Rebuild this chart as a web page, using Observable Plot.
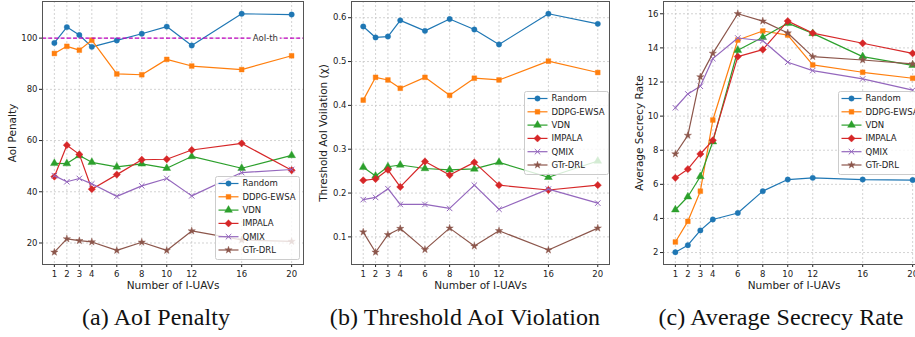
<!DOCTYPE html>
<html>
<head>
<meta charset="utf-8">
<script src="https://cdn.jsdelivr.net/npm/d3@7"></script>
<script src="https://cdn.jsdelivr.net/npm/@observablehq/plot@0.6"></script>
<style>
  html, body { margin: 0; padding: 0; background: #fff; }
  #wrap { position: relative; width: 915px; height: 337px; overflow: hidden; background: #fff; }
  #captions { position: absolute; left: 0; top: 0; }
</style>
</head>
<body>
<div id="wrap"><svg id="captions" width="915" height="337"></svg></div>
<script>
// ---------- data ----------
const xs = [1, 2, 3, 4, 6, 8, 10, 12, 16, 20];
const methods = ["Random", "DDPG-EWSA", "VDN", "IMPALA", "QMIX", "GTr-DRL"];
const colors = ["#1f77b4", "#ff7f0e", "#2ca02c", "#d62728", "#9467bd", "#8c564b"];

// (a) AoI Penalty
const aoiRandom = [98.1, 104.3, 101.2, 96.6, 99.1, 101.7, 104.5, 97.1, 109.5, 109.2];
const aoiDDPG   = [94.0, 96.8, 95.3, 99.2, 86.0, 85.7, 91.7, 89.1, 87.7, 93.1];
const aoiVDN    = [51.1, 51.0, 54.2, 51.5, 49.7, 50.9, 49.2, 53.8, 49.2, 54.2];
const aoiIMPALA = [45.9, 58.2, 54.6, 41.0, 46.7, 52.5, 52.7, 56.3, 58.9, 48.4];
const aoiQMIX   = [46.3, 43.9, 45.2, 43.1, 38.2, 42.3, 45.2, 38.4, 47.5, 48.7];
const aoiGTr    = [16.4, 21.6, 20.9, 20.4, 17.1, 20.3, 17.1, 24.7, 21.2, 20.6];
const aoiThreshold = 100;
const aoiTicks = [20, 40, 60, 80, 100];

// (b) Threshold AoI Violation
const vioRandom = [0.580, 0.555, 0.557, 0.594, 0.570, 0.597, 0.573, 0.539, 0.609, 0.586];
const vioDDPG   = [0.412, 0.464, 0.458, 0.439, 0.464, 0.423, 0.462, 0.458, 0.501, 0.475];
const vioVDN    = [0.259, 0.239, 0.260, 0.264, 0.256, 0.253, 0.255, 0.270, 0.236, 0.273];
const vioIMPALA = [0.229, 0.232, 0.253, 0.214, 0.272, 0.241, 0.270, 0.218, 0.207, 0.218];
const vioQMIX   = [0.185, 0.190, 0.210, 0.174, 0.174, 0.165, 0.218, 0.163, 0.209, 0.177];
const vioGTr    = [0.111, 0.065, 0.105, 0.119, 0.071, 0.120, 0.079, 0.114, 0.070, 0.120];
const vioTicks = [0.1, 0.2, 0.3, 0.4, 0.5, 0.6];

// (c) Average Secrecy Rate
const secRandom = [2.02, 2.43, 3.30, 3.94, 4.32, 5.60, 6.28, 6.38, 6.28, 6.25];
const secDDPG   = [2.62, 3.83, 5.60, 9.77, 14.46, 14.99, 14.75, 13.00, 12.57, 12.22];
const secVDN    = [4.51, 5.27, 6.46, 8.50, 13.86, 14.62, 15.45, 14.85, 13.49, 12.98];
const secIMPALA = [6.38, 6.89, 7.78, 8.58, 13.49, 13.90, 15.57, 14.87, 14.27, 13.68];
const secQMIX   = [10.49, 11.30, 11.75, 13.37, 14.58, 14.42, 13.16, 12.67, 12.18, 11.52];
const secGTr    = [7.78, 8.87, 12.30, 13.68, 16.00, 15.57, 14.87, 13.49, 13.29, 13.06];
const secTicks = [2, 4, 6, 8, 10, 12, 14, 16];

const captions = ["(a) AoI Penalty", "(b) Threshold AoI Violation", "(c) Average Secrecy Rate"];

// ---------- styling ----------
const symbolNames = ["circle", "square", "triangle", "diamond2", "times", "star"];
const d3Symbols = [d3.symbolCircle, d3.symbolSquare, d3.symbolTriangle, d3.symbolDiamond2, d3.symbolTimes, d3.symbolStar];
const symbolR = [2.7, 2.7, 2.9, 3.3, 2.6, 2.3];
const strokeOnly = [false, false, false, false, true, false];
const FONT = "DejaVu Sans, Verdana, sans-serif";

function toRows(series) {
  const rows = [];
  series.forEach((vals, i) => vals.forEach((v, j) => rows.push({method: methods[i], x: xs[j], y: v})));
  return rows;
}

function makePanel(cfg) {
  const rows = toRows(cfg.series);
  const marks = [
    Plot.gridX(xs, {stroke: "#c8c8c8", strokeOpacity: 1, strokeDasharray: "2,2", strokeWidth: 0.8}),
    Plot.gridY(cfg.yTicks, {stroke: "#c8c8c8", strokeOpacity: 1, strokeDasharray: "2,2", strokeWidth: 0.8}),
    Plot.axisX(xs, {tickSize: 3, tickPadding: 3, fontSize: 8.5, label: null, tickFormat: d => String(d)}),
    Plot.axisY(cfg.yTicks, {tickSize: 3, tickPadding: 2, fontSize: 8.5, label: null, tickFormat: cfg.tickFormat})
  ];
  methods.forEach((m, i) => {
    const sub = rows.filter(r => r.method === m);
    marks.push(Plot.line(sub, {x: "x", y: "y", stroke: colors[i], strokeWidth: 1.2}));
    marks.push(Plot.dot(sub, {
      x: "x", y: "y", symbol: symbolNames[i], r: symbolR[i],
      fill: strokeOnly[i] ? "none" : colors[i],
      stroke: colors[i], strokeWidth: strokeOnly[i] ? 1 : 0.4
    }));
  });
  if (cfg.extra) marks.push(...cfg.extra);
  marks.push(Plot.frame({stroke: "#555", strokeWidth: 1}));
  marks.push(Plot.text([cfg.yLabel], {frameAnchor: "left", rotate: -90, dx: -cfg.yLabelOffset, text: d => d,
    fontSize: 10.5, fill: "#222", textAnchor: "middle", lineAnchor: "middle"}));
  marks.push(Plot.text(["Number of I-UAVs"], {frameAnchor: "bottom", dy: 21, text: d => d,
    fontSize: 10.5, fill: "#222", textAnchor: "middle", lineAnchor: "middle"}));

  const svg = Plot.plot({
    width: cfg.width, height: 300,
    marginLeft: cfg.marginLeft, marginRight: cfg.marginRight, marginTop: 1, marginBottom: 36,
    style: {fontFamily: FONT, fontSize: "8.5px", color: "#222", background: "transparent", overflow: "visible"},
    x: {domain: [0.05, 20.95]},
    y: {domain: cfg.yDomain},
    marks
  });
  svg.style.position = "absolute";
  svg.style.left = cfg.left + "px";
  svg.style.top = "0px";

  // legend (matplotlib style box)
  const g = d3.select(svg).append("g")
    .attr("font-family", FONT).attr("font-size", 8.5).attr("text-anchor", "start");
  const bw = 84, bh = 83;
  const bx = cfg.legendX, by = cfg.legendY;
  g.append("rect").attr("x", bx + 0.5).attr("y", by + 0.5).attr("width", bw).attr("height", bh)
    .attr("rx", 2).attr("ry", 2)
    .style("fill", "rgba(255,255,255,0.8)").style("stroke", "#cccccc").style("stroke-width", "1px");
  methods.forEach((m, i) => {
    const yy = by + 7.5 + i * 13.3;
    g.append("line").attr("x1", bx + 3.5).attr("x2", bx + 23.5).attr("y1", yy).attr("y2", yy)
      .attr("stroke", colors[i]).attr("stroke-width", 1.2);
    g.append("path").attr("d", d3.symbol().type(d3Symbols[i]).size(Math.PI * symbolR[i] * symbolR[i])())
      .attr("transform", `translate(${bx + 13.5},${yy})`)
      .attr("fill", strokeOnly[i] ? "none" : colors[i])
      .attr("stroke", colors[i]).attr("stroke-width", strokeOnly[i] ? 1 : 0.4);
    g.append("text").attr("x", bx + 27.5).attr("y", yy).attr("dy", "0.35em")
      .attr("text-anchor", "start").attr("fill", "#222").text(m);
  });
  document.getElementById("wrap").appendChild(svg);
}

// panel (a)
makePanel({
  series: [aoiRandom, aoiDDPG, aoiVDN, aoiIMPALA, aoiQMIX, aoiGTr],
  yDomain: [11.6, 114.3], yTicks: aoiTicks, tickFormat: d => String(d),
  yLabel: "AoI Penalty", yLabelOffset: 30,
  left: 0, width: 305, marginLeft: 42, marginRight: 2,
  legendX: 215, legendY: 176,
  extra: [
    Plot.ruleY([aoiThreshold], {stroke: "#bf00bf", strokeWidth: 1.2, strokeDasharray: "4,2.2"}),
    Plot.text([{x: 17.9, y: aoiThreshold, t: "AoI-th"}], {x: "x", y: "y", text: "t", fontSize: 8.5,
      fill: "#333", stroke: "white", strokeWidth: 5, textAnchor: "middle"})
  ]
});

// panel (b)
makePanel({
  series: [vioRandom, vioDDPG, vioVDN, vioIMPALA, vioQMIX, vioGTr],
  yDomain: [0.037, 0.637], yTicks: vioTicks, tickFormat: d => d.toFixed(1),
  yLabel: "Threshold AoI Voilation (\u03c7)", yLabelOffset: 28,
  left: 305, width: 306, marginLeft: 46, marginRight: 2,
  legendX: 219, legendY: 91
});

// panel (c)
makePanel({
  series: [secRandom, secDDPG, secVDN, secIMPALA, secQMIX, secGTr],
  yDomain: [1.3, 16.72], yTicks: secTicks, tickFormat: d => String(d),
  yLabel: "Average Secrecy Rate", yLabelOffset: 24,
  left: 610, width: 316, marginLeft: 53, marginRight: 2,
  legendX: 228, legendY: 91
});

// captions
const cap = d3.select("#captions");
const capX = [156, 465, 781];
captions.forEach((c, i) => {
  cap.append("text").attr("x", capX[i]).attr("y", 325).attr("text-anchor", "middle")
    .attr("font-family", "Liberation Serif, Times New Roman, serif").attr("font-size", 24)
    .attr("letter-spacing", "0.1px").attr("fill", "#111").text(c);
});
</script>
</body>
</html>
